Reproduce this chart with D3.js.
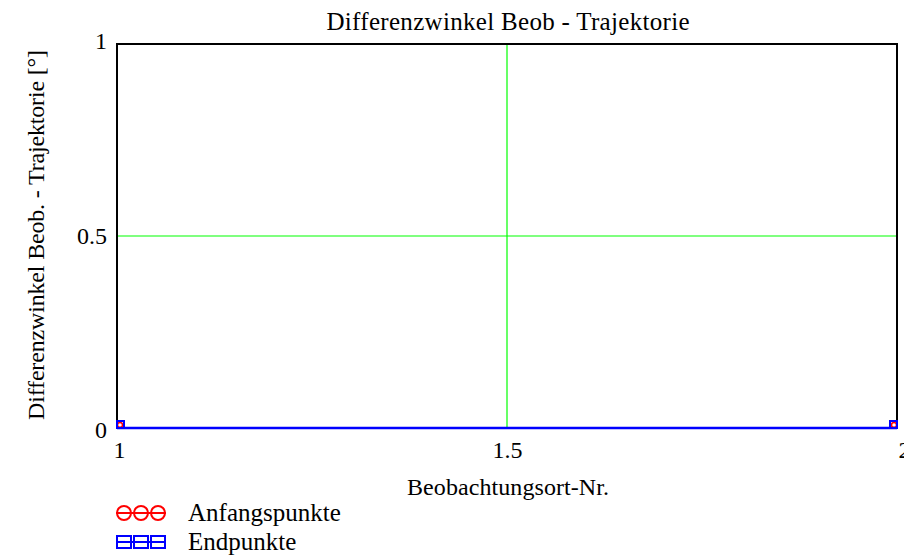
<!DOCTYPE html>
<html><head><meta charset="utf-8">
<script src="https://cdn.jsdelivr.net/npm/d3@7"></script>
<style>body{margin:0;background:#fff;}svg text{font-family:"Liberation Serif","Times New Roman",serif !important;}</style>
</head><body>
<svg id="c" width="904" height="558"></svg>
<script>
const xCats = [1, 2];
const anfang = [0, 0];
const endp = [0, 0];
const xTicks = [1, 1.5, 2];
const yTicks = [0, 0.5, 1];
const title = "Differenzwinkel Beob - Trajektorie";
const xLabel = "Beobachtungsort-Nr.";
const yLabel = "Differenzwinkel Beob. - Trajektorie [°]";
const seriesNames = ["Anfangspunkte", "Endpunkte"];
const seriesColors = ["#ff0000", "#0000ff"];

const FS = 24;
const svg = d3.select("#c");
const L = 117, R = 897, T = 44, B = 428;
const x = d3.scaleLinear().domain([1, 2]).range([L, R]);
const y = d3.scaleLinear().domain([0, 1]).range([B, T]);

svg.append("g").selectAll("line").data([1.5]).enter().append("line")
  .attr("x1", d => x(d)).attr("x2", d => x(d)).attr("y1", T).attr("y2", B)
  .attr("stroke", "#00ff00").attr("stroke-width", 1.2);
svg.append("g").selectAll("line").data([0.5]).enter().append("line")
  .attr("y1", d => y(d)).attr("y2", d => y(d)).attr("x1", L).attr("x2", R)
  .attr("stroke", "#00ff00").attr("stroke-width", 1.2);

svg.append("rect").attr("x", L).attr("y", T).attr("width", R - L).attr("height", B - T)
  .attr("fill", "none").attr("stroke", "#000").attr("stroke-width", 2);

const yAxis = d3.axisLeft(y).tickValues(yTicks).tickSize(0).tickPadding(10).tickFormat(d3.format("~g"));
const gy = svg.append("g").attr("transform", `translate(${L},0)`).call(yAxis);
gy.select(".domain").remove();
gy.attr("font-size", FS);
gy.selectAll("text").attr("fill", "#000")
  .attr("dy", (d) => d === 1 ? "0.2em" : d === 0 ? "0.4em" : "0.32em");

const xAxis = d3.axisBottom(x).tickValues(xTicks).tickSize(0).tickPadding(13).tickFormat(d3.format("~g"));
const gx = svg.append("g").attr("transform", `translate(0,${B})`).call(xAxis);
gx.select(".domain").remove();
gx.attr("font-size", FS);
gx.selectAll("text").attr("fill", "#000")
  .attr("text-anchor", (d) => d === 1 ? "start" : "middle")
  .attr("dx", (d) => d === 1 ? "-4" : d === 2 ? "7" : "0");

const line = d3.line().x((d, i) => x(xCats[i])).y(d => y(d));
svg.append("path").datum(anfang).attr("d", line).attr("fill", "none").attr("stroke", seriesColors[0]).attr("stroke-width", 2);
svg.append("path").datum(endp).attr("d", line).attr("fill", "none").attr("stroke", seriesColors[1]).attr("stroke-width", 2.5);
svg.append("g").selectAll("circle").data(anfang).enter().append("circle")
  .attr("cx", (d, i) => x(xCats[i]) + (i === 0 ? 3 : -3)).attr("cy", d => y(d) - 3).attr("r", 2.5)
  .attr("fill", "none").attr("stroke", seriesColors[0]).attr("stroke-width", 1.5);
svg.append("g").selectAll("rect").data(endp).enter().append("rect")
  .attr("x", (d, i) => x(xCats[i]) + (i === 0 ? 0 : -7)).attr("y", d => y(d) - 7).attr("width", 7).attr("height", 7)
  .attr("fill", "none").attr("stroke", seriesColors[1]).attr("stroke-width", 2);

svg.append("text").attr("x", 508).attr("y", 30).attr("text-anchor", "middle").attr("font-size", 25)
  .attr("textLength", 363).attr("lengthAdjust", "spacing").text(title);
svg.append("text").attr("x", 508).attr("y", 495).attr("text-anchor", "middle").attr("font-size", FS)
  .attr("textLength", 202).attr("lengthAdjust", "spacing").text(xLabel);
svg.append("text").attr("transform", "translate(44,235) rotate(-90)").attr("text-anchor", "middle").attr("font-size", FS)
  .attr("textLength", 370).attr("lengthAdjust", "spacing").text(yLabel);

const lg = svg.append("g");
const legendW = [154, 117];
seriesNames.forEach((name, i) => {
  const cy = 513 + i * 29;
  const g = lg.append("g");
  g.append("line").attr("x1", 116).attr("x2", 166).attr("y1", cy).attr("y2", cy).attr("stroke", seriesColors[i]).attr("stroke-width", 2);
  [124, 141, 158].forEach(cx => {
    if (i === 0) g.append("circle").attr("cx", cx).attr("cy", cy).attr("r", 7).attr("fill", "none").attr("stroke", seriesColors[i]).attr("stroke-width", 2);
    else g.append("rect").attr("x", cx - 7).attr("y", cy - 6).attr("width", 14).attr("height", 12).attr("fill", "none").attr("stroke", seriesColors[i]).attr("stroke-width", 2);
  });
  g.append("text").attr("x", 188).attr("y", cy + 8).attr("font-size", 25).text(name);
});
</script>
</body></html>
